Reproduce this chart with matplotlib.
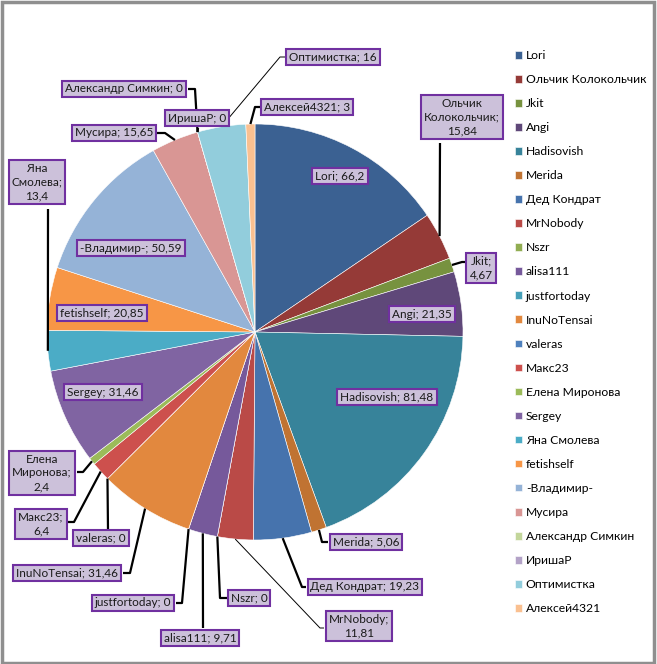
import numpy as np
import matplotlib.pyplot as plt
from matplotlib.patches import Rectangle

names = ['Lori', 'Ольчик Колокольчик', 'Jkit', 'Angi', 'Hadisovish', 'Merida',
         'Дед Кондрат', 'MrNobody', 'Nszr', 'alisa111', 'justfortoday', 'InuNoTensai',
         'valeras', 'Макс23', 'Елена Миронова', 'Sergey', 'Яна Смолева', 'fetishself',
         '-Владимир-', 'Мусира', 'Александр Симкин', 'ИришаР', 'Оптимистка', 'Алексей4321']
values = [66.2, 15.84, 4.67, 21.35, 81.48, 5.06,
          19.23, 11.81, 0, 9.71, 0, 31.46,
          0, 6.4, 2.4, 31.46, 13.4, 20.85,
          50.59, 15.65, 0, 0, 16, 3]
colors = ['#3b6192', '#953a37', '#77923f', '#5f4879', '#37839a', '#c07332',
          '#4673ad', '#ba4a47', '#91ad52', '#76599b', '#46a0b9', '#e2883e',
          '#4f81bd', '#cd504d', '#9bbb59', '#8064a2', '#4bacc6', '#f79646',
          '#95b3d7', '#d99694', '#c3d69b', '#b3a2c7', '#92cddc', '#fac090']

W, H = 657, 664
plt.rcParams['font.family'] = ['Lato', 'DejaVu Sans']

fig = plt.figure(figsize=(W / 100, H / 100), dpi=100)
ax = fig.add_axes([0, 0, 1, 1])


def Y(y):
    return H - y


cx, cy, r = 255, Y(332), 208
wedges, _ = ax.pie(values, colors=colors, startangle=90, counterclock=False,
                   center=(cx, cy), radius=r,
                   wedgeprops=dict(edgecolor='white', linewidth=0.4))
ax.set_xlim(0, W)
ax.set_ylim(0, H)
ax.axis('off')


def fmt(v):
    return ('%g' % v).replace('.', ',')


# label layout: index -> (box centre px, leader path px, thin line, text override)
layout = {
    0: ((340, 176), None, False, None),
    1: ((462, 117), [(440, 143)], False, 'Ольчик\nКолокольчик;\n{v}'),
    2: ((481, 268), [(462, 262), (466, 262)], False, 'Jkit;\n{v}'),
    3: ((422, 314), None, False, None),
    4: ((387, 397), None, False, None),
    5: ((366, 542), [(322, 542), (328, 542)], False, None),
    6: ((365, 587), [(302, 587), (306, 587)], False, None),
    7: ((359, 626), [(320, 628), (324, 628)], True, 'MrNobody;\n{v}'),
    8: ((249, 598), [(220, 598), (228, 598)], False, None),
    9: ((200, 638), [(203, 628)], False, None),
    10: ((133, 603), [(182, 603), (176, 603)], False, None),
    11: ((67, 573), [(130, 573), (123, 573)], False, None),
    12: ((101, 538), [(108, 530)], False, None),
    13: ((41, 524), [(74, 522), (68, 522)], False, 'Макс23;\n{v}'),
    14: ((42, 473), [(83, 472), (77, 472)], False, 'Елена\nМиронова;\n{v}'),
    15: ((103, 392), None, False, None),
    16: ((37, 182), [(48, 209)], False, 'Яна\nСмолева;\n{v}'),
    17: ((102, 313), None, False, None),
    18: ((131, 248), None, False, None),
    19: ((114, 133), [(165, 133), (156, 133)], False, None),
    20: ((124, 89), [(195, 89), (188, 89)], False, None),
    21: ((197, 118), [(198, 128)], False, None),
    22: ((333, 57), [(280, 57), (285, 57)], True, None),
    23: ((307, 107), [(255, 107), (261, 107)], False, None),
}

for i, (box, path, thin, tmpl) in layout.items():
    w = wedges[i]
    if path:
        mid = np.deg2rad((w.theta1 + w.theta2) / 2)
        xs = [cx + r * np.cos(mid)] + [p[0] for p in path]
        ys = [cy + r * np.sin(mid)] + [Y(p[1]) for p in path]
        ax.plot(xs, ys, color='black', lw=0.7 if thin else 1.6, zorder=3,
                solid_capstyle='butt')
    text = (tmpl or '{n}; {v}').format(n=names[i], v=fmt(values[i]))
    ax.text(box[0], Y(box[1]), text, ha='center', va='center', multialignment='center',
            fontsize=8.5, color='#1a1a1a', linespacing=1.3, zorder=5,
            bbox=dict(boxstyle='square,pad=0.25', facecolor='#ccc1da',
                      edgecolor='#7030a0', linewidth=1.5))

ax.legend(wedges, names, loc='upper left', bbox_to_anchor=(515 / W, 1 - 50 / H),
          bbox_transform=fig.transFigure, frameon=False, fontsize=8.7,
          handlelength=0.6, handleheight=0.6, handletextpad=0.3,
          labelspacing=1.08, borderaxespad=0, borderpad=0)

fig.patches.append(Rectangle((1.5 / W, 1.5 / H), 1 - 4.5 / W, 1 - 3 / H,
                             transform=fig.transFigure, fill=False,
                             edgecolor='#8f8f8f', linewidth=2.5))

fig.savefig('out.png', dpi=100)
